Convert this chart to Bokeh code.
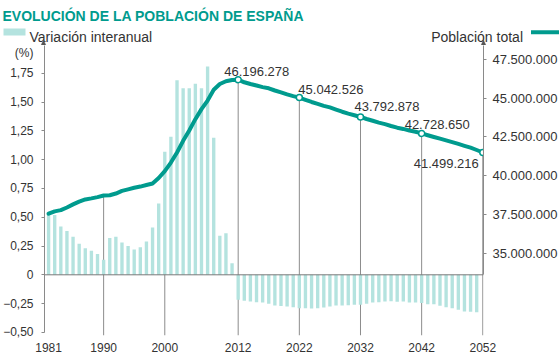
from bokeh.plotting import figure
from bokeh.layouts import column
from bokeh.models import Range1d, LinearAxis, FixedTicker, ColumnDataSource, Span
from bokeh.embed import file_html
from bokeh.resources import INLINE
from bokeh.core.properties import value

# ---------------- data ----------------
title_text = "EVOLUCIÓN DE LA POBLACIÓN DE ESPAÑA"
bar_label = "Variación interanual"
line_label = "Población total"
unit_label = "(%)"

var_years = list(range(1981, 2052))
var_values = [
    0.53, 0.52, 0.42, 0.38, 0.33, 0.27, 0.23, 0.21, 0.18, 0.13,
    0.32, 0.33, 0.28, 0.25, 0.22, 0.24, 0.29, 0.41, 0.62, 1.07,
    1.20, 1.69, 1.62, 1.62, 1.66, 1.62, 1.81, 1.19, 0.34, 0.36,
    0.10,
    -0.217, -0.226, -0.232, -0.238, -0.241, -0.252, -0.267, -0.272, -0.275, -0.281,
    -0.290, -0.290, -0.293, -0.290, -0.284, -0.275, -0.267, -0.267, -0.264, -0.261,
    -0.261, -0.252, -0.241, -0.238, -0.232, -0.229, -0.235, -0.232, -0.241, -0.241,
    -0.246, -0.255, -0.255, -0.270, -0.281, -0.290, -0.304, -0.319, -0.322, -0.325,
]

pop_years = list(range(1981, 2053))
pop_millions = [
    37.55, 37.70, 37.78, 37.95, 38.15, 38.33, 38.47, 38.54, 38.62, 38.72,
    38.74, 38.85, 39.02, 39.12, 39.22, 39.30, 39.40, 39.50, 39.85, 40.30,
    40.85, 41.50, 42.25, 42.92, 43.65, 44.30, 44.85, 45.55, 45.92, 46.10,
    46.18, 46.196278,
    46.03, 45.92, 45.82, 45.72, 45.64, 45.50, 45.38, 45.25, 45.14, 45.042526,
    44.90, 44.76, 44.64, 44.51, 44.41, 44.27, 44.13, 44.01, 43.90, 43.792878,
    43.66, 43.55, 43.43, 43.33, 43.21, 43.10, 43.02, 42.92, 42.84, 42.728650,
    42.61, 42.50, 42.39, 42.28, 42.17, 42.05, 41.93, 41.81, 41.66, 41.499216,
]

ann_years = [2012, 2022, 2032, 2042, 2052]
ann_values = [46196278, 45042526, 43792878, 42728650, 41499216]
ann_labels = ["46.196.278", "45.042.526", "43.792.878", "42.728.650", "41.499.216"]

guide_years = [1990, 2000, 2012, 2022, 2032, 2042, 2052]

x_ticks = [1981, 1990, 2000, 2012, 2022, 2032, 2042, 2052]
left_ticks = [-0.5, -0.25, 0, 0.25, 0.5, 0.75, 1.0, 1.25, 1.5, 1.75]
left_tick_labels = ["\u22120,50", "\u22120,25", "0", "0,25", "0,50", "0,75",
                    "1,00", "1,25", "1,50", "1,75"]
unit_label_pos = 1.923
right_ticks = [35000000, 37500000, 40000000, 42500000, 45000000, 47500000]
right_tick_labels = ["35.000.000", "37.500.000", "40.000.000",
                     "42.500.000", "45.000.000", "47.500.000"]

# ---------------- style ----------------
TEAL = "#009b8e"
BAR = "#b4e3df"
GUIDE = "#8c8c8c"
AXIS = "#8a8a8a"
ARROW = "#555555"
TXT = "#333333"
FONT = "Liberation Sans"

W = 560
TOP_H = 45
MAIN_H = 312
BORDER_L = 43
BORDER_R = 77
BORDER_B = 22

pop_values = [v * 1e6 for v in pop_millions]
pop_lookup = dict(zip(pop_years, pop_values))

yr = Range1d(-0.5274, 1.9922)
POP_AT_ZERO = 33.606e6
POP_PER_UNIT = 7.428e6
pop_range = Range1d(POP_AT_ZERO + POP_PER_UNIT * yr.start,
                    POP_AT_ZERO + POP_PER_UNIT * yr.end)
xr = Range1d(1980.331, 2052.114)

# ---------------- header figure (title + legend + axis arrows) ----------------
top = figure(width=W, height=TOP_H, x_range=Range1d(0, W), y_range=Range1d(TOP_H, 0),
             x_axis_type=None, y_axis_type=None, output_backend="svg",
             toolbar_location=None, min_border=0, frame_align=False)
top.outline_line_color = None
top.text(x=[2], y=[15], text=[title_text], text_font=value(FONT),
         text_font_style="bold", text_font_size="14px", text_color=TEAL,
         text_align="left", text_baseline="alphabetic")
top.rect(x=[14], y=[31.5], width=22, height=7, fill_color=BAR, line_color=None)
top.text(x=[29], y=[36], text=[bar_label], text_font=value(FONT),
         text_font_size="14px", text_color=TXT, text_align="left",
         text_baseline="alphabetic")
top.text(x=[522.5], y=[36], text=[line_label], text_font=value(FONT),
         text_font_size="14px", text_color=TXT, text_align="right",
         text_baseline="alphabetic")
top.segment(x0=[530.5], y0=[31.7], x1=[558.5], y1=[31.7], line_color=TEAL, line_width=4)
axis_x = [BORDER_L, W - BORDER_R]
top.patches(xs=[[ax - 2.5, ax, ax + 2.5] for ax in axis_x],
            ys=[[TOP_H, TOP_H - 5.5, TOP_H] for _ in axis_x],
            fill_color=ARROW, line_color=ARROW, line_width=0.5)

# ---------------- main figure ----------------
p = figure(width=W, height=MAIN_H, x_range=xr, y_range=yr,
           output_backend="svg", toolbar_location=None,
           min_border_left=BORDER_L, min_border_right=BORDER_R,
           min_border_top=0, min_border_bottom=BORDER_B, frame_align=False)
p.extra_y_ranges = {"pop": pop_range}
p.outline_line_color = None
p.xgrid.visible = False
p.ygrid.visible = False

# left axis: numeric ticks marked with short "minor" ticks, unit label unmarked
la = p.yaxis[0]
la.ticker = FixedTicker(ticks=left_ticks + [unit_label_pos], minor_ticks=left_ticks)
la.major_label_overrides = dict(zip(left_ticks + [unit_label_pos],
                                    left_tick_labels + [unit_label]))
la.bounds = (-0.5, yr.end)
la.axis_line_color = AXIS
la.major_tick_line_color = None
la.major_tick_in = 0
la.major_tick_out = 0
la.minor_tick_line_color = AXIS
la.minor_tick_in = 0
la.minor_tick_out = 3
la.major_label_standoff = 8
la.major_label_text_font = FONT
la.major_label_text_font_size = "12px"
la.major_label_text_color = TXT

ba = p.xaxis[0]
ba.ticker = FixedTicker(ticks=x_ticks)
ba.axis_line_color = None
ba.major_tick_line_color = None
ba.minor_tick_line_color = None
ba.major_tick_out = 0
ba.major_tick_in = 0
ba.major_label_standoff = 7
ba.major_label_text_font = FONT
ba.major_label_text_font_size = "12px"
ba.major_label_text_color = TXT

ra = LinearAxis(y_range_name="pop", ticker=FixedTicker(ticks=right_ticks),
                major_label_overrides=dict(zip(right_ticks, right_tick_labels)),
                bounds=(POP_AT_ZERO, pop_range.end))
ra.axis_line_color = AXIS
ra.major_tick_line_color = AXIS
ra.major_tick_in = 0
ra.major_tick_out = 3
ra.minor_tick_line_color = None
ra.major_label_standoff = 6
ra.major_label_text_font = FONT
ra.major_label_text_font_size = "13px"
ra.major_label_text_color = TXT
p.add_layout(ra, "right")

p.segment(x0=guide_years, y0=[pop_range.start] * len(guide_years),
          x1=guide_years, y1=[pop_lookup[y] for y in guide_years],
          y_range_name="pop", line_color=GUIDE, line_width=1)

p.vbar(x=var_years, top=var_values, bottom=0, width=0.55,
       fill_color=BAR, line_color=None)

p.add_layout(Span(location=0, dimension="width", line_color="#7a7a7a", line_width=1))

p.line(pop_years, pop_values, y_range_name="pop", line_color=TEAL, line_width=4,
       line_join="round", line_cap="round")
p.scatter(ann_years, ann_values, y_range_name="pop", size=6, marker="circle",
          fill_color="white", line_color=TEAL, line_width=1.5)

ann_src = ColumnDataSource(dict(
    x=ann_years, y=ann_values, text=ann_labels,
    xo=[-14, -1, -6, -17, -4],
    yo=[-8.5, -8.5, -10, -9, 7],
    align=["left", "left", "left", "left", "right"],
    base=["alphabetic", "alphabetic", "alphabetic", "alphabetic", "top"],
))
p.text(x="x", y="y", text="text", source=ann_src, y_range_name="pop",
       x_offset="xo", y_offset="yo", text_align="align", text_baseline="base",
       text_font=value(FONT), text_font_size="13px", text_color=TXT)

layout = column(top, p, spacing=0)
open("out.html", "w").write(file_html(layout, INLINE))
